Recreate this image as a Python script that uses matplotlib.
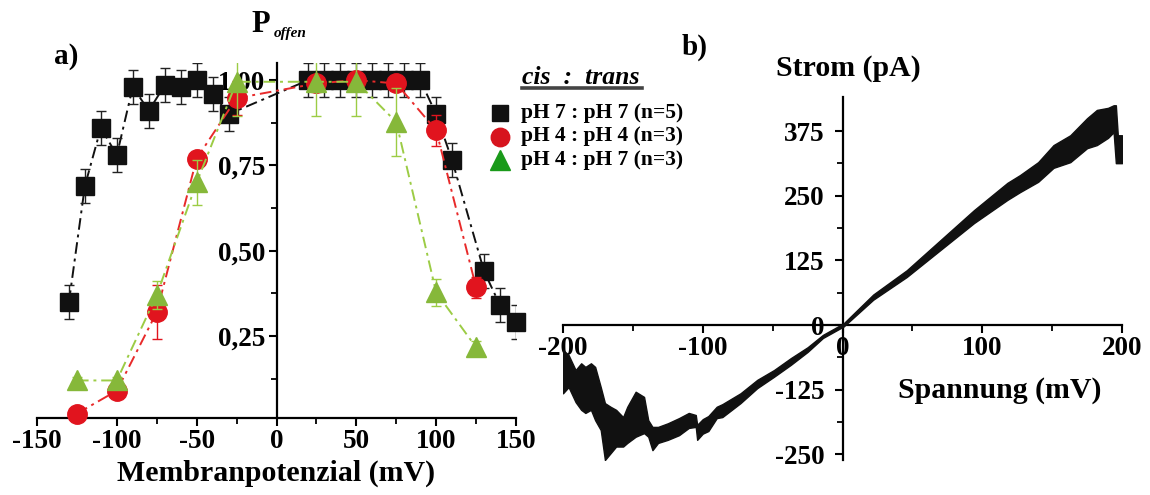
import matplotlib
matplotlib.use("Agg")
import matplotlib.pyplot as plt
from matplotlib.ticker import MultipleLocator, FixedLocator
from matplotlib.lines import Line2D

plt.rcParams['font.family'] = ['Liberation Serif', 'DejaVu Serif']
plt.rcParams['font.weight'] = 'bold'

# ---------------- panel a: open probability vs membrane potential ----------------
v_ph77 = [-130, -120, -110, -100, -90, -80, -70, -60, -50, -40, -30,
          20, 30, 40, 50, 60, 70, 80, 90, 100, 110, 130, 140, 150]
p_ph77 = [0.35, 0.69, 0.86, 0.78, 0.98, 0.91, 0.985, 0.98, 1.00, 0.96, 0.90,
          1.00, 1.00, 1.00, 1.00, 1.00, 1.00, 1.00, 1.00, 0.90, 0.765, 0.44, 0.34, 0.29]
e_ph77 = [0.05] * len(v_ph77)

v_ph44 = [-125, -100, -75, -50, -25, 25, 50, 75, 100, 125]
p_ph44 = [0.023, 0.09, 0.32, 0.77, 0.947, 0.99, 1.00, 0.99, 0.853, 0.393]
e_ph44 = [0.01, 0.02, 0.08, 0.01, 0.05, 0.025, 0.01, 0.01, 0.045, 0.03]

v_ph47 = [-125, -100, -75, -50, -25, 25, 50, 75, 100, 125]
p_ph47 = [0.12, 0.12, 0.37, 0.70, 0.995, 0.995, 0.995, 0.877, 0.378, 0.217]
e_ph47 = [0.01, 0.01, 0.04, 0.065, 0.10, 0.10, 0.10, 0.10, 0.04, 0.02]

legend_labels = ["pH 7 : pH 7 (n=5)", "pH 4 : pH 4 (n=3)", "pH 4 : pH 7 (n=3)"]
yticks_a = [0.25, 0.50, 0.75, 1.00]
yticklabels_a = ["0,25", "0,50", "0,75", "1,00"]

# ---------------- panel b: current-voltage trace (noise envelope) ----------------
u_mv = [-200, -196, -191, -187, -184, -180, -177, -173, -170, -166, -162, -157,
        -154, -148, -142, -139, -136, -132, -125, -117, -110, -105, -104, -100,
        -96, -90, -86, -73, -61, -49, -37, -25, -14, -1.4, 0.7, 22, 46, 70, 94,
        118, 127, 140, 151, 163, 175, 182, 190, 194, 195.6, 197, 200]
i_low = [-132, -120, -149, -164, -170, -164, -184, -203, -261, -248, -235, -235,
         -228, -216, -209, -216, -242, -228, -222, -213, -199, -197, -222, -210,
         -205, -180, -178, -151, -122, -100, -77, -52, -25, -6, -3, 49, 93, 145, 197,
         242, 257, 277, 304, 315, 342, 348, 362, 373, 313, 313, 313]
i_high = [-48, -58, -87, -74, -81, -74, -81, -120, -151, -158, -164, -178,
          -158, -129, -139, -184, -197, -197, -190, -180, -170, -174, -193, -182,
          -176, -158, -153, -132, -106, -87, -64, -43, -19, 0, 3, 59, 106, 164, 222,
          275, 290, 315, 348, 367, 400, 416, 420, 425, 425, 367, 367]

W, H = 1150, 495
fig = plt.figure(figsize=(W / 100, H / 100), dpi=100)

def fx(px):
    return px / W

def fy(py):
    return 1 - py / H

tick_fs = 19.5
label_fs = 21.5

# ---------- panel a ----------
ax = fig.add_axes([fx(37), fy(418), fx(516) - fx(37), fy(63) - fy(418)])
ax.set_xlim(-150, 150)
ax.set_ylim(0.01, 1.05)
ax.spines['top'].set_visible(False)
ax.spines['right'].set_visible(False)
ax.spines['left'].set_position(('data', 0))
for s in ('left', 'bottom'):
    ax.spines[s].set_linewidth(1.6)
ax.xaxis.set_major_locator(MultipleLocator(50))
ax.xaxis.set_minor_locator(MultipleLocator(25))
ax.yaxis.set_major_locator(FixedLocator(yticks_a))
ax.set_yticklabels(yticklabels_a)
ax.yaxis.set_minor_locator(FixedLocator([0.125, 0.375, 0.625, 0.875]))
ax.tick_params(which='major', direction='out', length=6, width=1.5,
               labelsize=tick_fs, pad=2)
ax.tick_params(which='minor', direction='out', length=4, width=1.3)
ax.set_xticklabels([f"{int(t)}" for t in ax.get_xticks()])
ax.set_xlabel("Membranpotenzial (mV)", fontsize=label_fs, fontweight='bold',
              labelpad=4)

dashdot = (0, (6, 2.5, 1.5, 2.5))
series = [
    (v_ph77, p_ph77, e_ph77, 's', '#111111', '#111111', '#222222', 12.5),
    (v_ph44, p_ph44, e_ph44, 'o', '#e1141e', '#e82a2a', '#e1141e', 14),
    (v_ph47, p_ph47, e_ph47, '^', '#86b83a', '#9ccc45', '#9ccc45', 15),
]
for k, (vx, py, ey, mk, mc, lc, ec, ms) in enumerate(series):
    z = 3 + k
    ax.plot(vx, py, linestyle=dashdot, color=lc, lw=1.4, zorder=z, clip_on=False)
    ax.errorbar(vx, py, yerr=ey, fmt='none', ecolor=ec, elinewidth=1.0,
                capsize=3.5, capthick=1.0, zorder=z)
    ax.plot(vx, py, linestyle='none', marker=mk, ms=ms, color=mc,
            markeredgecolor=mc, zorder=z + 0.5, clip_on=False)

fig.text(fx(251), fy(24), "P", fontsize=22, fontweight='bold', va='center', ha='left')
fig.text(fx(274), fy(33), "offen", fontsize=11, fontweight='bold', style='italic',
         va='center', ha='left')
fig.text(fx(54), fy(56), "a)", fontsize=21, fontweight='bold', va='center', ha='left')

# legend block
fig.text(fx(522), fy(77), "cis  :  trans", fontsize=18.5, fontweight='bold',
         style='italic', va='center', ha='left')
fig.add_artist(Line2D([fx(522), fx(642)], [fy(88), fy(88)], color='#444444', lw=2.6))
leg_markers = [('s', '#111111', 12.5), ('o', '#d7141e', 14), ('^', '#1a9a1a', 15)]
for row, ((mk, col, ms), lab) in enumerate(zip(leg_markers, legend_labels)):
    yy = 113 + row * 23.5
    fig.add_artist(Line2D([fx(500)], [fy(yy)], marker=mk, ms=ms * 0.95, color=col,
                          linestyle='none'))
    fig.text(fx(521), fy(yy), lab, fontsize=15.5, fontweight='bold',
             va='center', ha='left')

# ---------- panel b ----------
bx = fig.add_axes([fx(563), fy(460), fx(1122) - fx(563), fy(97) - fy(460)])
bx.set_xlim(-200, 200)
bx.set_ylim(-261, 441)
bx.spines['top'].set_visible(False)
bx.spines['right'].set_visible(False)
bx.spines['left'].set_position(('data', 0))
bx.spines['bottom'].set_position(('data', 0))
for s in ('left', 'bottom'):
    bx.spines[s].set_linewidth(1.6)
bx.xaxis.set_major_locator(MultipleLocator(100))
bx.xaxis.set_minor_locator(MultipleLocator(50))
bx.yaxis.set_major_locator(FixedLocator([-250, -125, 0, 125, 250, 375]))
bx.yaxis.set_minor_locator(FixedLocator([-187.5, -62.5, 62.5, 187.5, 312.5]))
bx.tick_params(which='major', direction='out', length=6, width=1.5,
               labelsize=tick_fs, pad=2)
bx.tick_params(axis='y', which='major', pad=7)
bx.tick_params(which='minor', direction='out', length=4, width=1.3)
bx.set_xticklabels([f"{int(t)}" for t in bx.get_xticks()])
bx.set_yticklabels(["-250", "-125", "0", "125", "250", "375"])

bx.fill_between(u_mv, i_low, i_high, color='#111111', lw=1.0, edgecolor='#111111',
                zorder=3)

fig.text(fx(848), fy(68), "Strom (pA)", fontsize=label_fs, fontweight='bold',
         va='center', ha='center')
fig.text(fx(1000), fy(391), "Spannung (mV)", fontsize=label_fs, fontweight='bold',
         va='center', ha='center')
fig.text(fx(682), fy(47), "b)", fontsize=21, fontweight='bold', va='center', ha='left')

fig.savefig("out.png", dpi=100)
